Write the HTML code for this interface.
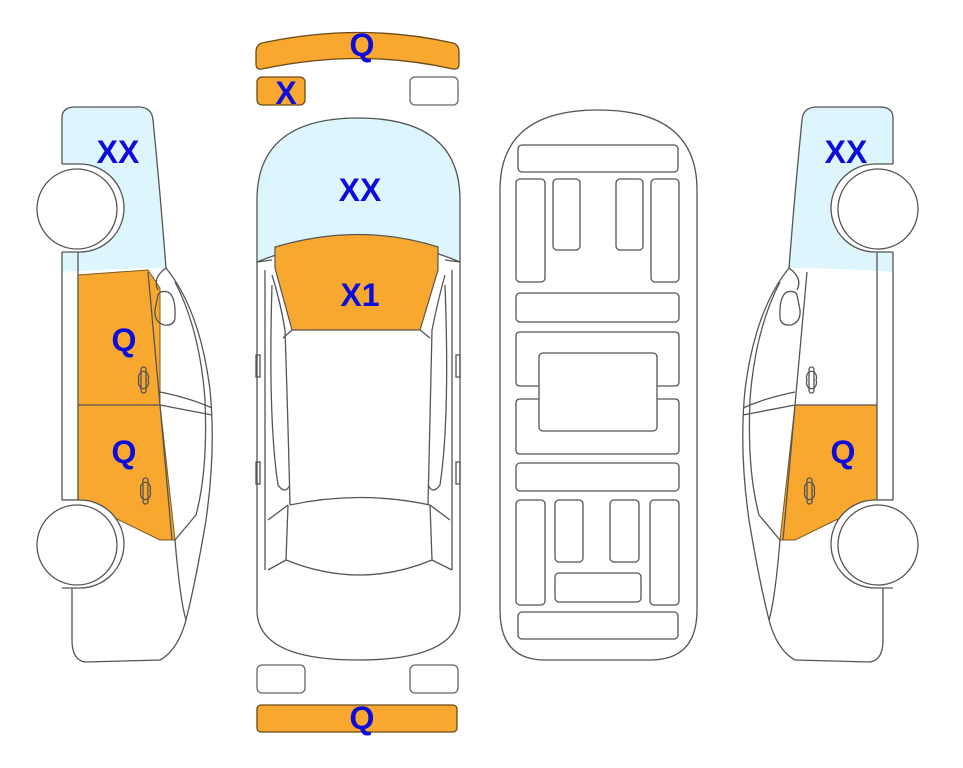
<!DOCTYPE html>
<html><head><meta charset="utf-8"><style>
html,body{margin:0;padding:0;background:#fff}
svg{display:block}
text{font-family:"Liberation Sans",Arial,sans-serif;font-weight:bold;fill:#0c0cdc;font-size:32px;text-anchor:middle}
</style></head><body>
<svg width="963" height="768" viewBox="0 0 963 768" xmlns="http://www.w3.org/2000/svg">
<defs>
<g id="side" fill="none" stroke="#555" stroke-width="1.3">
  <path d="M62,118 Q62,107 75,107 L140,107 Q152,108 153,120 Q160,190 166,268 Q200,310 210,390 Q216,450 206,520 Q196,580 186,620 Q178,650 160,660 L85,662 Q72,660 72,640 L72,588" />
  <path d="M62,118 L62,164"/>
  <path d="M62,252 L62,500 M78,252 L78,500"/>
  <path d="M166,268 Q152,278 158,290 M175,282 Q200,330 205,400 Q208,470 196,515 L175,540"/>
  <path d="M62,500 L78,500"/>
  <path d="M160,392 Q190,398 212,408 M160,405 L212,415"/>
  <path d="M158,295 Q160,290 168,292 Q176,296 175,318 Q174,326 164,325 Q154,322 155,310 Z"/>
  <path d="M148,272 L160,405 L172,540"/>
  <path d="M78,405 L160,405"/>
  <rect x="141" y="367" width="5" height="26" rx="2.5"/>
  <path d="M139,380 a5,6 0 1,0 9,0 a5,6 0 1,0 -9,0"/>
  <rect x="143" y="478" width="5" height="26" rx="2.5"/>
  <path d="M141,491 a5,6 0 1,0 9,0 a5,6 0 1,0 -9,0"/>
  <path d="M175,540 Q180,600 186,620"/>
  <!-- wheels with arches -->
  <path d="M62,164 L80,164 A44,44 0 0,1 80,252 L62,252" fill="#fff"/>
  <circle cx="77" cy="209" r="40" fill="#fff"/>
  <path d="M62,500 L80,500 A44,44 0 0,1 80,588 L62,588" fill="#fff"/>
  <circle cx="77" cy="545" r="40" fill="#fff"/>
</g>
</defs>

<!-- LEFT CAR -->
<path d="M62,118 Q62,107 75,107 L140,107 Q152,108 153,120 Q160,190 166,268 Q120,268 62,272 Z" fill="#ddf5fd"/>
<path d="M78,275 L148,270 L160,288 L160,405 L78,405 Z" fill="#f8a82e" stroke="#7a5a20" stroke-width="1"/>
<path d="M78,405 L160,405 L175,540 L160,540 L78,500 Z" fill="#f8a82e" stroke="#7a5a20" stroke-width="1"/>
<use href="#side"/>
<text x="118" y="163">XX</text>
<text x="124" y="351">Q</text>
<text x="124" y="463">Q</text>

<!-- RIGHT CAR -->
<g transform="translate(955,0) scale(-1,1)">
<path d="M62,118 Q62,107 75,107 L140,107 Q152,108 153,120 Q160,190 166,268 Q120,268 62,272 Z" fill="#ddf5fd"/>
<path d="M78,405 L160,405 L175,540 L160,540 L78,500 Z" fill="#f8a82e" stroke="#7a5a20" stroke-width="1"/>
<use href="#side"/>
</g>
<text x="846" y="163">XX</text>
<text x="843" y="463">Q</text>

<!-- TOP CAR -->
<path d="M262,43 Q360,22 453,43 Q459,45 459,52 L459,64 Q459,70 453,69 Q360,48 262,69 Q256,70 256,64 L256,52 Q256,45 262,43 Z" fill="#f8a82e" stroke="#6a4a18" stroke-width="1.3"/>
<rect x="257" y="77" width="48" height="28" rx="5" fill="#f8a82e" stroke="#6a4a18" stroke-width="1.3"/>
<rect x="410" y="77" width="48" height="28" rx="5" fill="#fff" stroke="#666" stroke-width="1.3"/>
<rect x="257" y="665" width="48" height="28" rx="5" fill="#fff" stroke="#666" stroke-width="1.3"/>
<rect x="410" y="665" width="48" height="28" rx="5" fill="#fff" stroke="#666" stroke-width="1.3"/>
<rect x="257" y="705" width="200" height="27" rx="4" fill="#f8a82e" stroke="#6a4a18" stroke-width="1.3"/>

<path d="M257,262 L257,200 Q257,118 358,118 Q460,118 460,200 L460,262 Q360,220 257,262 Z" fill="#ddf5fd" stroke="#555" stroke-width="1.3"/>
<path d="M275,247 Q360,222 438,247 L438,270 L420,330 L292,330 L275,268 Z" fill="#f8a82e" stroke="#555" stroke-width="1.2"/>
<g fill="none" stroke="#555" stroke-width="1.3">
  <path d="M257,262 L257,610 Q257,660 358,660 Q460,660 460,610 L460,262"/>
  <path d="M257,262 L272,260 M460,262 L445,260"/>
  <path d="M265,270 L265,570 M452,270 L452,570"/>
  <path d="M272,275 Q280,300 285,330 Q288,420 290,505 M445,275 Q438,300 432,330 Q430,420 428,505"/>
  <path d="M292,330 L283,338 M420,330 L430,338"/>
  <path d="M272,285 Q268,420 278,485 Q285,495 290,485 M445,285 Q450,420 440,485 Q433,495 428,485"/>
  <path d="M290,505 Q360,490 430,505"/>
  <path d="M288,505 L268,520 M430,505 L450,520"/>
  <path d="M288,505 L286,560 Q360,590 432,560 L430,505"/>
  <path d="M286,560 L268,570 M432,560 L452,570"/>
  <rect x="256" y="355" width="4" height="22"/>
  <rect x="456" y="355" width="4" height="22"/>
  <rect x="256" y="462" width="4" height="22"/>
  <rect x="456" y="462" width="4" height="22"/>
</g>
<text x="362" y="56">Q</text>
<text x="286" y="104">X</text>
<text x="360" y="201">XX</text>
<text x="360" y="306">X1</text>
<text x="362" y="729">Q</text>

<!-- FLOOR PLAN -->
<g fill="none" stroke="#555" stroke-width="1.3">
  <path d="M500,190 Q500,110 598,110 Q697,110 697,190 L697,610 Q697,660 650,660 L545,660 Q500,660 500,610 Z"/>
  <rect x="518" y="145" width="160" height="27" rx="4"/>
  <rect x="516" y="179" width="29" height="103" rx="4"/>
  <rect x="553" y="179" width="27" height="71" rx="4"/>
  <rect x="616" y="179" width="27" height="71" rx="4"/>
  <rect x="651" y="179" width="28" height="103" rx="4"/>
  <rect x="516" y="293" width="163" height="29" rx="4"/>
  <path d="M539,386 L520,386 Q516,386 516,382 L516,336 Q516,332 520,332 L675,332 Q679,332 679,336 L679,382 Q679,386 675,386 L657,386"/>
  <path d="M539,399 L520,399 Q516,399 516,403 L516,450 Q516,454 520,454 L675,454 Q679,454 679,450 L679,403 Q679,399 675,399 L657,399"/>
  <rect x="539" y="353" width="118" height="78" rx="4"/>
  <rect x="516" y="463" width="163" height="28" rx="4"/>
  <rect x="516" y="500" width="29" height="105" rx="4"/>
  <rect x="555" y="500" width="28" height="62" rx="4"/>
  <rect x="610" y="500" width="29" height="62" rx="4"/>
  <rect x="650" y="500" width="29" height="105" rx="4"/>
  <rect x="555" y="573" width="86" height="29" rx="4"/>
  <rect x="518" y="612" width="160" height="27" rx="4"/>
</g>
</svg>
</body></html>
